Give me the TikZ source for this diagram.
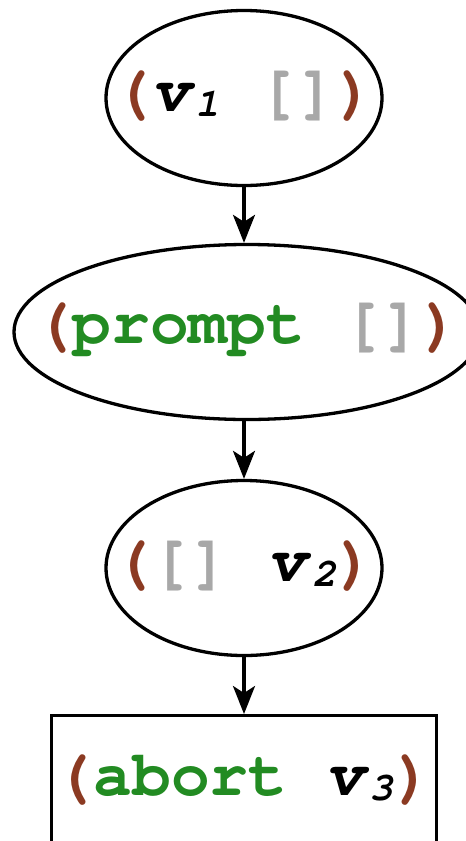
\documentclass[tikz,border=0pt]{standalone}
\usepackage{fontspec}
\usetikzlibrary{shapes.geometric,arrows.meta}
\newfontfamily\cour{TeX Gyre Cursor}
\definecolor{parbrown}{HTML}{8B3A22}
\definecolor{kwgreen}{HTML}{228B22}
\definecolor{brgray}{HTML}{A8A8A8}
\newcommand{\lp}{\textcolor{parbrown}{(}}
\newcommand{\rp}{\textcolor{parbrown}{)}}
\newcommand{\nilbr}{\textcolor{brgray}{[]}}
\newcommand{\kw}[1]{\textcolor{kwgreen}{#1}}
\newcommand{\vv}[1]{\textit{v}\raisebox{-5pt}{\fontsize{40}{44}\selectfont\textit{#1}}}
\begin{document}
\begin{tikzpicture}[x=1pt,y=-1pt,
  every node/.style={inner sep=0pt, line width=3.3pt},
  txt/.style={font=\cour\bfseries\fontsize{64.5}{70}\selectfont, draw=none},
  oval/.style={ellipse, draw},
  box/.style={rectangle, draw},
  conn/.style={line width=3.3pt, -{Stealth[length=28pt,width=22pt,inset=7pt]}}]
\useasboundingbox (0,0) rectangle (466,841);
\node[oval, minimum width=276pt, minimum height=175pt] (n1) at (244,98) {};
\node[txt] (t1) at ([yshift=2pt]n1.center) {\lp\vv{1} \nilbr\rp};
\node[oval, minimum width=466pt, minimum height=175pt] (n2) at (247,332) {};
\node[txt] (t2) at ([yshift=2pt]n2.center) {\lp\kw{prompt} \nilbr\rp};
\node[oval, minimum width=276pt, minimum height=175pt] (n3) at (244,568) {};
\node[txt] (t3) at ([yshift=2pt]n3.center) {\lp\nilbr{} \vv{2}\rp};
\node[box, minimum width=385pt, minimum height=130pt, anchor=north] (n4) at (244,714) {};
\node[txt] (t4) at ([yshift=-66pt]n4.north) {\lp\kw{abort} \vv{3}\rp};
\draw[conn] (n1.south) -- (n1.south |- n2.north);
\draw[conn] (n3.north |- n2.south) -- (n3.north);
\draw[conn] (n3.south) -- (n4.north);
\end{tikzpicture}
\end{document}
